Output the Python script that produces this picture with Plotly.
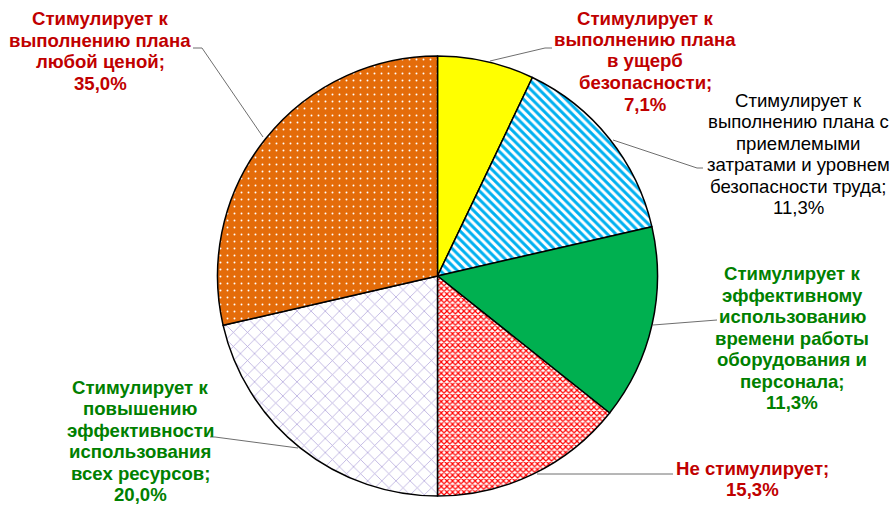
import plotly.graph_objects as go

W, H = 891, 506

# ---- data ----
categories = [
    "Стимулирует к выполнению плана в ущерб безопасности",
    "Стимулирует к выполнению плана с приемлемыми затратами и уровнем безопасности труда",
    "Стимулирует к эффективному использованию времени работы оборудования и персонала",
    "Не стимулирует",
    "Стимулирует к повышению эффективности использования всех ресурсов",
    "Стимулирует к выполнению плана любой ценой",
]
# slice shares as drawn in the picture (%)
values = [7.1, 14.3, 14.3, 14.3, 21.4, 28.6]
# percentages as printed in the data labels
pct_labels = ["7,1%", "11,3%", "11,3%", "15,3%", "20,0%", "35,0%"]
label_lines = [
    ["Стимулирует к", "выполнению плана", "в ущерб", "безопасности"],
    ["Стимулирует к", "выполнению плана с", "приемлемыми", "затратами и уровнем", "безопасности труда"],
    ["Стимулирует к", "эффективному", "использованию", "времени работы", "оборудования и", "персонала"],
    ["Не стимулирует"],
    ["Стимулирует к", "повышению", "эффективности", "использования", "всех ресурсов"],
    ["Стимулирует к", "выполнению плана", "любой ценой"],
]

# ---- styles ----
base_colors = ["#FFFF00", "#FFFFFF", "#00B050", "#FFFFFF", "#FFFFFF", "#E46C0A"]
pat_shapes = ["", "\\", "", "x", "x", "."]
pat_fg = ["#FFFF00", "#00B0F0", "#00B050", "#FF0000", "#B4A8DC", "#FFFFFF"]
pat_bg = ["#FFFF00", "#FFFFFF", "#00B050", "#FFFFFF", "#FFFFFF", "#E46C0A"]
pat_size = [6, 6, 6, 4, 10, 7]
pat_sol = [0.3, 0.5, 0.3, 0.5, 0.15, 0.06]

text_colors = ["#C00000", "#000000", "#008000", "#C00000", "#008000", "#C00000"]
text_bold = [True, False, True, True, True, True]
FONT_SIZE = 18.6
LINE_H = 21.5
# label centres (pixels) and leader lines (pixels) -- layout only
label_pos = [(645, 61), (798, 154), (792, 338), (752, 479), (140, 441), (100, 51)]
leaders = [
    [(490, 61), (545, 48), (552, 48)],
    [(613, 140), (697, 168), (703, 168)],
    [(653, 325), (717, 320)],
    [(537, 474), (673, 474)],
    [(298, 448), (215, 437), (210, 437)],
    [(263, 137), (202, 48), (193, 48)],
]

cx, cy, r = 437.5, 276, 220


def px(x):
    return x / W


def py(y):
    return 1 - y / H


fig = go.Figure(go.Pie(
    labels=categories,
    values=values,
    sort=False,
    direction="clockwise",
    rotation=0,
    textinfo="none",
    hoverinfo="label",
    showlegend=False,
    domain=dict(x=[px(cx - r), px(cx + r)], y=[py(cy + r), py(cy - r)]),
    marker=dict(
        colors=base_colors,
        line=dict(color="#000000", width=1.5),
        pattern=dict(shape=pat_shapes, fgcolor=pat_fg, bgcolor=pat_bg,
                     size=pat_size, solidity=pat_sol, fillmode="replace"),
    ),
))

annotations = []
for lines, pct, col, bold, (lx, ly) in zip(label_lines, pct_labels, text_colors, text_bold, label_pos):
    all_lines = lines[:-1] + [lines[-1] + ";", pct]
    n = len(all_lines)
    for i, ln in enumerate(all_lines):
        y = ly + (i - (n - 1) / 2) * LINE_H
        annotations.append(dict(
            x=px(lx), y=py(y), xref="paper", yref="paper",
            text=f"<b>{ln}</b>" if bold else ln,
            showarrow=False, xanchor="center", yanchor="middle",
            font=dict(family="Liberation Sans, Arial, sans-serif", size=FONT_SIZE, color=col),
        ))

shapes = []
for pts in leaders:
    for (x0, y0), (x1, y1) in zip(pts[:-1], pts[1:]):
        shapes.append(dict(type="line", xref="paper", yref="paper",
                           x0=px(x0), y0=py(y0), x1=px(x1), y1=py(y1),
                           line=dict(color="#6E6E6E", width=1)))

fig.update_layout(
    width=W, height=H,
    margin=dict(l=0, r=0, t=0, b=0),
    paper_bgcolor="white", plot_bgcolor="white",
    annotations=annotations, shapes=shapes,
)

fig.write_html("out.html",
               config={"displayModeBar": False},
               post_script="document.body.style.margin='0';document.body.style.overflow='hidden';")
